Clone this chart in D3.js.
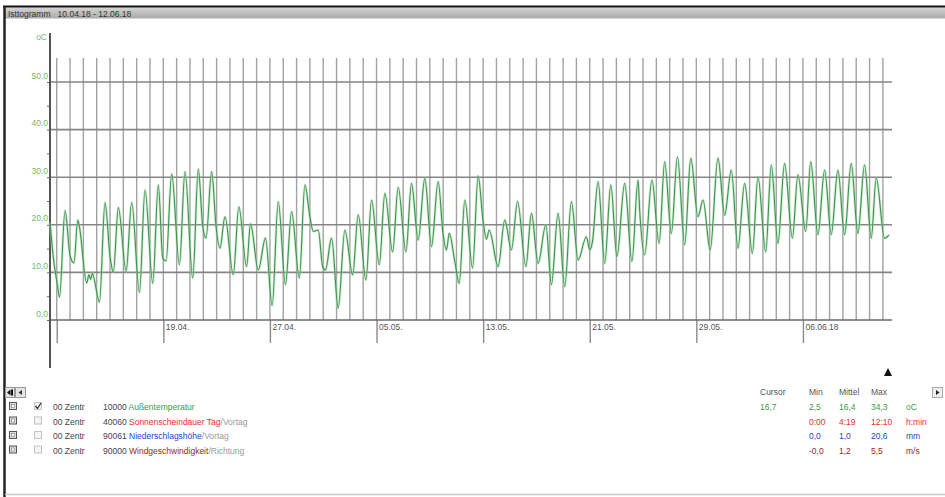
<!DOCTYPE html>
<html><head><meta charset="utf-8">
<script src="https://cdn.jsdelivr.net/npm/d3@7"></script>
<style>
body{margin:0;background:#fff;}
svg text{font-family:"Liberation Sans",Arial,sans-serif;}
</style></head>
<body><svg id="c" width="945" height="497"></svg>
<script>
// ---- data ----
const tempTimes = ["04-10 12","04-10 18","04-11 01","04-11 05","04-11 15","04-12 00","04-12 07","04-12 14","04-12 17","04-13 06","04-13 10","04-13 13","04-13 16","04-14 05","04-14 15","04-15 00","04-15 06","04-15 15","04-16 05","04-16 15","04-17 05","04-17 15","04-18 05","04-18 15","04-18 23","04-19 05","04-19 15","04-20 05","04-20 15","04-21 05","04-21 15","04-21 23","04-22 05","04-22 15","04-22 23","04-23 06","04-23 15","04-24 06","04-24 16","04-25 06","04-25 13","04-26 03","04-26 16","04-27 04","04-27 15","04-28 04","04-28 15","04-29 05","04-29 15","04-30 00","04-30 06","04-30 15","04-30 23","05-01 04","05-01 15","05-02 03","05-02 15","05-03 05","05-03 15","05-04 05","05-04 15","05-05 05","05-05 15","05-06 05","05-06 15","05-07 05","05-07 15","05-08 03","05-08 15","05-09 03","05-09 15","05-10 00","05-10 06","05-10 11","05-10 21","05-11 05","05-11 15","05-12 05","05-12 15","05-13 00","05-13 06","05-13 11","05-14 03","05-14 15","05-15 03","05-15 14","05-16 05","05-16 15","05-17 03","05-17 17","05-18 03","05-18 15","05-19 03","05-19 15","05-20 03","05-20 18","05-21 00","05-21 05","05-21 15","05-22 03","05-22 14","05-23 01","05-23 15","05-24 04","05-24 15","05-24 18","05-25 03","05-25 16","05-26 05","05-26 15","05-27 03","05-27 14","05-28 03","05-28 14","05-29 03","05-29 12","05-30 01","05-30 15","05-31 03","05-31 15","06-01 03","06-01 15","06-02 05","06-02 15","06-03 05","06-03 15","06-04 03","06-04 15","06-05 05","06-05 15","06-06 05","06-06 14","06-07 03","06-07 15","06-08 03","06-08 15","06-09 03","06-09 15","06-10 03","06-10 15","06-11 03","06-11 12","06-12 03","06-12 11"];
const tempValues = [20.5,13.0,7.5,4.8,23.0,13.5,12.0,21.0,19.5,7.8,9.5,8.5,9.8,3.8,24.7,13.3,10.1,23.6,10.2,24.7,5.8,27.3,7.7,28.4,13.0,12.4,30.7,11.6,31.2,8.8,31.7,19.6,17.2,31.2,19.6,15.1,21.7,9.5,23.8,11.2,20.2,10.5,17.2,3.0,24.9,7.4,22.8,8.8,28.4,21.7,18.6,18.9,11.2,10.5,17.2,2.5,18.9,9.5,22.1,8.4,25.2,11.6,26.6,14.3,27.9,14.3,28.7,16.8,29.8,15.4,29.1,17.9,14.7,18.2,12.3,7.7,25.2,10.9,30.3,20.7,17.0,18.9,11.2,21.0,14.7,24.9,11.2,22.4,11.9,20.0,7.4,22.4,7.0,24.9,12.6,17.5,14.7,16.5,29.1,11.9,28.4,13.3,28.7,12.3,29.4,23.0,13.7,29.4,16.1,33.3,18.2,34.3,15.8,34.0,21.7,25.2,14.7,34.0,22.0,31.5,15.1,28.7,14.0,30.1,14.3,32.6,16.1,32.9,17.2,30.5,18.6,33.3,17.9,31.5,17.9,31.5,17.9,32.9,18.2,32.6,17.2,29.8,17.2,17.9];
const yTicks = [0,10,20,30,40,50];
const yMinorTicks = [5,15,25,35,45];
const xTickDates = ["04-11","04-19","04-27","05-05","05-13","05-21","05-29","06-06"];
const xTickLabels = ["","19.04.","27.04.","05.05.","13.05.","21.05.","29.05.","06.06.18"];
const title = "Isttogramm   10.04.18 - 12.06.18";
const legendRows = [
  {code:"10000", name:"Außentemperatur", rest:"", color:"#3c9a48", checked:true},
  {code:"40060", name:"Sonnenscheindauer Tag", rest:"/Vortag", color:"#e8312d", checked:false},
  {code:"90061", name:"Niederschlagshöhe", rest:"/Vortag", color:"#2d3fc4", checked:false},
  {code:"90000", name:"Windgeschwindigkeit", rest:"/Richtung", color:"#8e2a2a", checked:false}
];
const cursorVals = ["16,7","","",""];
const minVals = ["2,5","0:00","0,0","-0,0"];
const meanVals = ["16,4","4:19","1,0","1,2"];
const maxVals = ["34,3","12:10","20,6","5,5"];
const units = ["oC","h:min","mm","m/s"];

// ---- drawing ----
const svg = d3.select("#c");
const parse = d3.timeParse("%Y-%m-%d %H");
const pDay = d3.timeParse("%Y-%m-%d");
const pts = tempTimes.map((t,i)=>({t:parse("2018-"+t), v:tempValues[i]}));

const x = d3.scaleTime().domain([pDay("2018-04-10"), pDay("2018-06-13")]).range([43.4, 896.2]);
const y = d3.scaleLinear().domain([0,50]).range([320, 82]);

// frame
const defs = svg.append("defs");
const g1 = defs.append("linearGradient").attr("id","hd").attr("x1",0).attr("x2",0).attr("y1",0).attr("y2",1);
g1.append("stop").attr("offset","0").attr("stop-color","#d4d4d4");
g1.append("stop").attr("offset","1").attr("stop-color","#a9a9a9");
svg.append("rect").attr("x",4).attr("y",7.5).attr("width",941).attr("height",11).attr("fill","url(#hd)");
svg.append("line").attr("x1",3).attr("x2",945).attr("y1",6.5).attr("y2",6.5).attr("stroke","#111").attr("stroke-width",2);
svg.append("line").attr("x1",4.5).attr("x2",4.5).attr("y1",6).attr("y2",497).attr("stroke","#222").attr("stroke-width",2.5);
svg.append("line").attr("x1",5).attr("x2",945).attr("y1",494.5).attr("y2",494.5).attr("stroke","#c8c8c8").attr("stroke-width",1.5);
svg.append("text").attr("x",8).attr("y",16.5).attr("font-size",8.5).attr("fill","#333").attr("xml:space","preserve").style("white-space","pre").text(title);

// vertical day gridlines
const days = d3.timeDay.range(pDay("2018-04-11"), pDay("2018-06-13"));
svg.append("g").selectAll("line").data(days).join("line")
  .attr("x1",d=>x(d)).attr("x2",d=>x(d)).attr("y1",58).attr("y2",320)
  .attr("stroke","#a2a2a2").attr("stroke-width",1.4);

// horizontal gridlines
svg.append("g").selectAll("line").data(yTicks.filter(d=>d>0)).join("line")
  .attr("x1",50).attr("x2",892).attr("y1",d=>y(d)).attr("y2",d=>y(d))
  .attr("stroke","#858585").attr("stroke-width",1.6);

// x axis
const xAxis = d3.axisBottom(x).tickValues(xTickDates.map(d=>pDay("2018-"+d)))
  .tickSize(23).tickFormat((d,i)=>xTickLabels[i]);
const gx = svg.append("g").attr("transform","translate(0,320)").call(xAxis);
gx.select(".domain").remove();
gx.selectAll(".tick line").attr("stroke","#8a8a8a").attr("stroke-width",1.4);
gx.selectAll(".tick text").attr("text-anchor","start").attr("x",2).attr("y",4).attr("dy","0.71em")
  .attr("font-size",8.5).attr("fill","#555").style("font-family","Liberation Sans, Arial");
svg.append("line").attr("x1",50).attr("x2",892).attr("y1",320).attr("y2",320).attr("stroke","#6a6a6a").attr("stroke-width",1.6);

// y axis
const yAxis = d3.axisLeft(y).tickValues(yTicks).tickSize(3).tickFormat(d=>d3.format(".1f")(d).replace(".",","));
const gy = svg.append("g").attr("transform","translate(50,0)").call(yAxis);
gy.select(".domain").remove();
gy.selectAll(".tick line").attr("stroke","#666");
gy.selectAll(".tick text").attr("x",-2).attr("dy","-0.45em").attr("font-size",8.5).attr("fill","#6fb86f")
  .style("font-family","Liberation Sans, Arial");
const gym = svg.append("g").attr("transform","translate(50,0)").call(d3.axisLeft(y).tickValues(yMinorTicks).tickSize(3).tickFormat(""));
gym.select(".domain").remove();
gym.selectAll(".tick line").attr("stroke","#666");
svg.append("line").attr("x1",50).attr("x2",50).attr("y1",33).attr("y2",368).attr("stroke","#555").attr("stroke-width",2);
svg.append("text").attr("x",47).attr("y",40).attr("text-anchor","end").attr("font-size",8.5).attr("fill","#6fb86f").text("oC");

// temperature line
const line = d3.line().x(d=>x(d.t)).y(d=>y(d.v)).curve(d3.curveMonotoneX);
svg.append("path").datum(pts).attr("d",line).attr("fill","none").attr("stroke","#a8d8ae").attr("stroke-width",2.6).attr("opacity",0.55);
svg.append("path").datum(pts).attr("d",line).attr("fill","none").attr("stroke","#3b944b").attr("stroke-width",1.1);

// legend buttons
svg.append("rect").attr("x",5.5).attr("y",387.5).attr("width",9).attr("height",10).attr("fill","#e4e4e4").attr("stroke","#999");
svg.append("rect").attr("x",15.5).attr("y",387.5).attr("width",10).attr("height",10).attr("fill","#e4e4e4").attr("stroke","#999");
svg.append("path").attr("d","M7,392.5 L10.5,389.5 L10.5,395.5 Z M11,389.5 L13,389.5 L13,395.5 L11,395.5 Z").attr("fill","#111");
svg.append("path").attr("d","M18.5,392.5 L22,390 L22,395 Z").attr("fill","#333");

const rowY = [410,424.5,439,453.5];
legendRows.forEach((r,i)=>{
  const yy = rowY[i];
  svg.append("rect").attr("x",9.5).attr("y",yy-7.5).attr("width",7).attr("height",7).attr("fill","#ddd").attr("stroke","#555");
  svg.append("rect").attr("x",11.5).attr("y",yy-5.5).attr("width",3).attr("height",3).attr("fill","#fff").attr("stroke","#777").attr("stroke-width",0.6);
  svg.append("rect").attr("x",34.5).attr("y",yy-7.5).attr("width",7).attr("height",7).attr("fill","#f4f4f4").attr("stroke","#c4c4c4");
  if (r.checked) svg.append("path").attr("d",`M35.5,${yy-4} L37.5,${yy-1.5} L41,${yy-7}`).attr("fill","none").attr("stroke","#333").attr("stroke-width",1.3);
  svg.append("text").attr("x",53).attr("y",yy).attr("font-size",8.5).attr("fill","#444").text("00 Zentr");
  const t = svg.append("text").attr("x",103).attr("y",yy).attr("font-size",8.5);
  t.append("tspan").attr("fill","#444").text(r.code+" ");
  t.append("tspan").attr("fill",r.color).text(r.name);
  t.append("tspan").attr("fill","#999").text(r.rest);
});

// right statistics table
svg.append("path").attr("d","M888,368 L892,376 L884,376 Z").attr("fill","#111");
const hdr = [["Cursor",760],["Min",809],["Mittel",839],["Max",871]];
hdr.forEach(h=>svg.append("text").attr("x",h[1]).attr("y",394.5).attr("font-size",8.5).attr("fill","#555").text(h[0]));
svg.append("rect").attr("x",932.5).attr("y",387.5).attr("width",10).attr("height",10).attr("fill","#eee").attr("stroke","#aaa");
svg.append("path").attr("d","M936,390 L939.5,392.5 L936,395 Z").attr("fill","#222");
legendRows.forEach((r,i)=>{
  const yy = rowY[i];
  const c = r.color;
  svg.append("text").attr("x",760).attr("y",yy).attr("font-size",8.5).attr("fill",c).text(cursorVals[i]);
  svg.append("text").attr("x",809).attr("y",yy).attr("font-size",8.5).attr("fill",c).text(minVals[i]);
  svg.append("text").attr("x",839).attr("y",yy).attr("font-size",8.5).attr("fill",c).text(meanVals[i]);
  svg.append("text").attr("x",871).attr("y",yy).attr("font-size",8.5).attr("fill",c).text(maxVals[i]);
  svg.append("text").attr("x",906).attr("y",yy).attr("font-size",8.5).attr("fill",c).text(units[i]);
});
</script></body></html>
